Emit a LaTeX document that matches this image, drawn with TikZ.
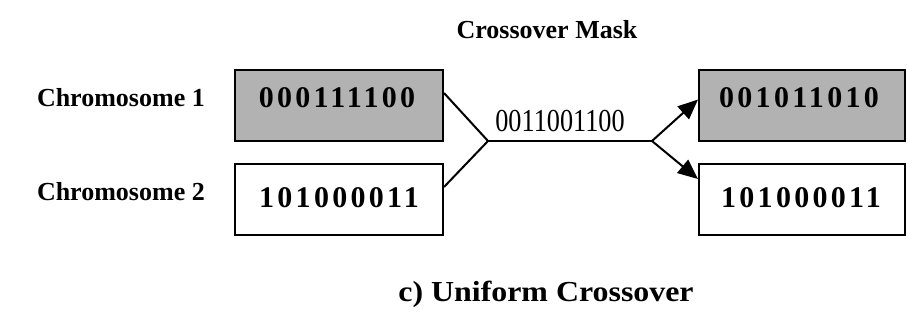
\documentclass[tikz,border=0pt]{standalone}
\usepackage{fontspec}
\usepackage{graphicx}
\setmainfont{Liberation Serif}
\newfontfamily\bitfont[LetterSpace=11]{Liberation Serif}
\usetikzlibrary{arrows.meta}
\tikzset{
  chrom/.style={draw, line width=2pt, minimum width=208pt, minimum height=71pt, inner sep=0pt},
  shaded/.style={chrom, fill=black!30},
  plain/.style={chrom, fill=white},
  bits/.style={inner sep=0pt, font=\bitfont\bfseries\fontsize{30}{30}\selectfont},
  lbl/.style={inner sep=0pt, font=\bfseries\fontsize{26}{26}\selectfont},
  wire/.style={line width=2pt},
  arr/.style={wire, -{Triangle[length=20pt,width=17pt]}}
}
\begin{document}
\begin{tikzpicture}[x=1pt,y=-1pt]
\useasboundingbox (0,0) rectangle (908,322);
% parent chromosomes
\node[shaded] (p1) at (339,105.5) {};
\node[plain]  (p2) at (339,199) {};
% offspring chromosomes
\node[shaded, minimum width=206pt] (c1) at (802,105.5) {};
\node[plain,  minimum width=206pt] (c2) at (802,199) {};
% bit strings
\node[bits] (p1t) at (337,98) {000111100};
\node[bits] (p2t) at (339,198) {101000011};
\node[bits] (c1t) at (799,98) {001011010};
\node[bits] (c2t) at (801,198) {101000011};
% labels
\node[lbl, anchor=east] (l1) at (205,98) {Chromosome 1};
\node[lbl, anchor=east] (l2) at (205,192) {Chromosome 2};
\node[lbl] (title) at (547,30) {Crossover Mask};
\node[inner sep=0pt] (cap) at (546,294)
  {\scalebox{1.1}[1]{\bfseries\fontsize{29}{29}\selectfont c) Uniform Crossover}};
% mask
\node[inner sep=0pt] (mask) at (560,121) {\scalebox{0.82}[1]{\fontsize{32}{32}\selectfont 0011001100}};
% junctions
\coordinate (j1) at (488,141);
\coordinate (j2) at (652,141);
\draw[wire] ([yshift=12.5pt]p1.east) -- (j1);
\draw[wire] ([yshift=12pt]p2.east) -- (j1);
\draw[wire] (j1) -- (j2);
\draw[arr] (j2) -- ([yshift=6pt]c1.west);
\draw[arr] (j2) -- ([yshift=20pt]c2.west);
\end{tikzpicture}
\end{document}
